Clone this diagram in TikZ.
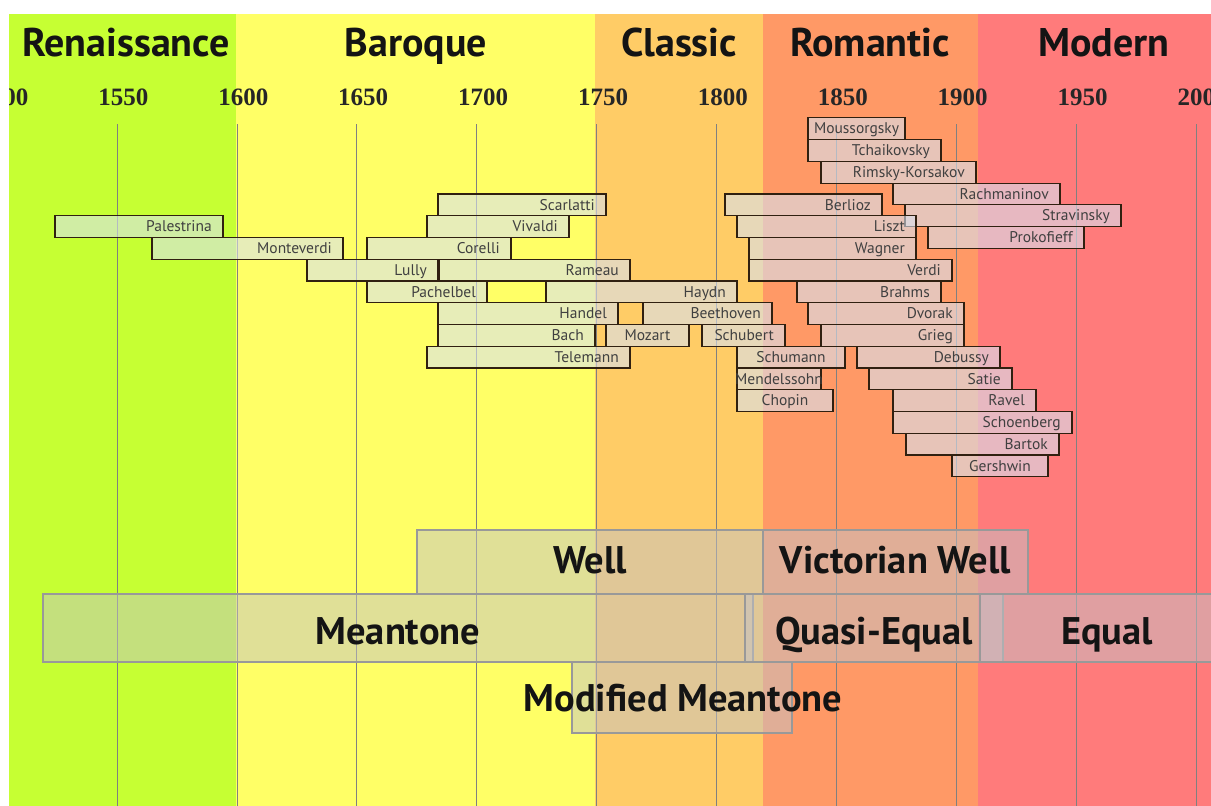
\documentclass[tikz,border=0pt]{standalone}
\usepackage{fontspec}
\setmainfont{PT Sans}
\newfontfamily\yearfont{Liberation Serif}
\usetikzlibrary{positioning}

\definecolor{renaiss}{HTML}{C6FF33}
\definecolor{baroq}{HTML}{FFFF66}
\definecolor{classic}{HTML}{FFCC66}
\definecolor{romant}{HTML}{FF9966}
\definecolor{modern}{HTML}{FF7B7B}
\definecolor{boxfill}{RGB}{215,225,240}
\definecolor{tunefill}{RGB}{195,195,200}

\tikzset{
  cbox/.style={draw=black!75!brown, line width=1.2pt, fill=boxfill, fill opacity=0.6},
  cname/.style={font=\fontsize{15.5}{16}\selectfont, text=black!75, inner sep=0pt},
  tbox/.style={draw=black!40, line width=1.2pt, fill=tunefill, fill opacity=0.5},
  tname/.style={font=\bfseries\fontsize{38.5}{40}\selectfont, text=black!92, inner sep=0pt, anchor=base},
  era/.style={font=\bfseries\fontsize{40}{42}\selectfont, text=black!92, inner sep=0pt, anchor=base},
  yearlbl/.style={font=\yearfont\bfseries\fontsize{25}{26}\selectfont, text=black!85, inner sep=0pt, anchor=base},
  gridline/.style={draw=black!50, line width=0.8pt}
}

\begin{document}
\begin{tikzpicture}[x=1pt,y=-1pt]
  \useasboundingbox (0,0) rectangle (1211,806);
  \fill[white] (0,0) rectangle (1211,806);
  \begin{scope}
    \clip (9,14) rectangle (1211,806);
    % periods
    \fill[renaiss] (9,14) rectangle (236,806);
    \fill[baroq] (236,14) rectangle (595,806);
    \fill[classic] (595,14) rectangle (763,806);
    \fill[romant] (763,14) rectangle (978,806);
    \fill[modern] (978,14) rectangle (1211,806);
    % time axis, one line every 50 years
    \foreach \k in {0,...,10}
      \draw[gridline] ({-2.9+\k*119.9},124) -- ({-2.9+\k*119.9},806);
    \foreach \k [evaluate=\k as \yr using int(1500+50*\k)] in {0,...,10}
      \node[yearlbl] (year\yr) at ({3.5+\k*119.9},105) {\yr};
    \node[era] (renaissance) at (126,56) {Renaissance};
    \node[era] (baroque) at (416,56) {Baroque};
    \node[era] (classicera) at (679,56) {Classic};
    \node[era] (romantic) at (870,56) {Romantic};
    \node[era] (modernera) at (1104,56) {Modern};

    % composers: left / right / row / name / r=right or c=centred
    \foreach \a/\b/\r/\n/\p in {
        55/223/1/Palestrina/r, 152/343/2/Monteverdi/r, 307/438/3/Lully/r,
        438/606/0/Scarlatti/r, 427/569/1/Vivaldi/r, 367/511/2/Corelli/r,
        439/630/3/Rameau/r, 367/487/4/Pachelbel/r, 546/737/4/Haydn/r,
        438/618/5/Handel/r, 643/772/5/Beethoven/r, 438/595/6/Bach/r,
        606/689/6/Mozart/c, 702/785/6/Schubert/r, 427/630/7/Telemann/r,
        808/905/-3.5/Moussorgsky/c, 808/941/-2.5/Tchaikovsky/r,
        821/976/-1.5/Rimsky-Korsakov/r, 893/1060/-0.5/Rachmaninov/r,
        725/882/0/Berlioz/r, 905/1121/0.5/Stravinsky/r, 737/916/1/Liszt/r,
        928/1084/1.5/Prokofieff/r, 749/916/2/Wagner/r, 749/952/3/Verdi/r,
        797/941/4/Brahms/r, 808/964/5/Dvorak/r, 821/964/6/Grieg/r,
        737/845/7/Schumann/c, 857/1000/7/Debussy/r, 737/821/8/Mendelssohn/c,
        869/1012/8/Satie/r, 737/833/9/Chopin/c, 893/1036/9/Ravel/r,
        893/1072/10/Schoenberg/r, 906/1059/11/Bartok/r, 952/1048/12/Gershwin/c}{
      \pgfmathsetmacro\ytop{194+\r*21.75}
      \pgfmathsetmacro\ybase{\ytop+16}
      \path[cbox] (\a,\ytop) rectangle (\b,{\ytop+21.75});
      \if\p r
        \node[cname, anchor=base east] (c\n) at ({\b-11},\ybase) {\n};
      \else
        \node[cname, anchor=base] (c\n) at ({(\a+\b)/2},\ybase) {\n};
      \fi
    }

    % temperaments
    \path[tbox] (417,530) rectangle (763,594);
    \path[tbox] (763,530) rectangle (1028,594);
    \path[tbox] (43,594) rectangle (753,662);
    \path[tbox] (745,594) rectangle (1003,662);
    \path[tbox] (980,594) rectangle (1234,662);
    \path[tbox] (572,662) rectangle (792,733);
    \node[tname] (well) at (590,573) {Well};
    \node[tname] (victorian) at (895.5,573) {Victorian Well};
    \node[tname] (meantone) at (398,644) {Meantone};
    \node[tname] (quasi) at (874,644) {Quasi-Equal};
    \node[tname] (equal) at (1107,644) {Equal};
    \node[tname] (modified) at (683,711) {Modified Meantone};
  \end{scope}
\end{tikzpicture}
\end{document}
